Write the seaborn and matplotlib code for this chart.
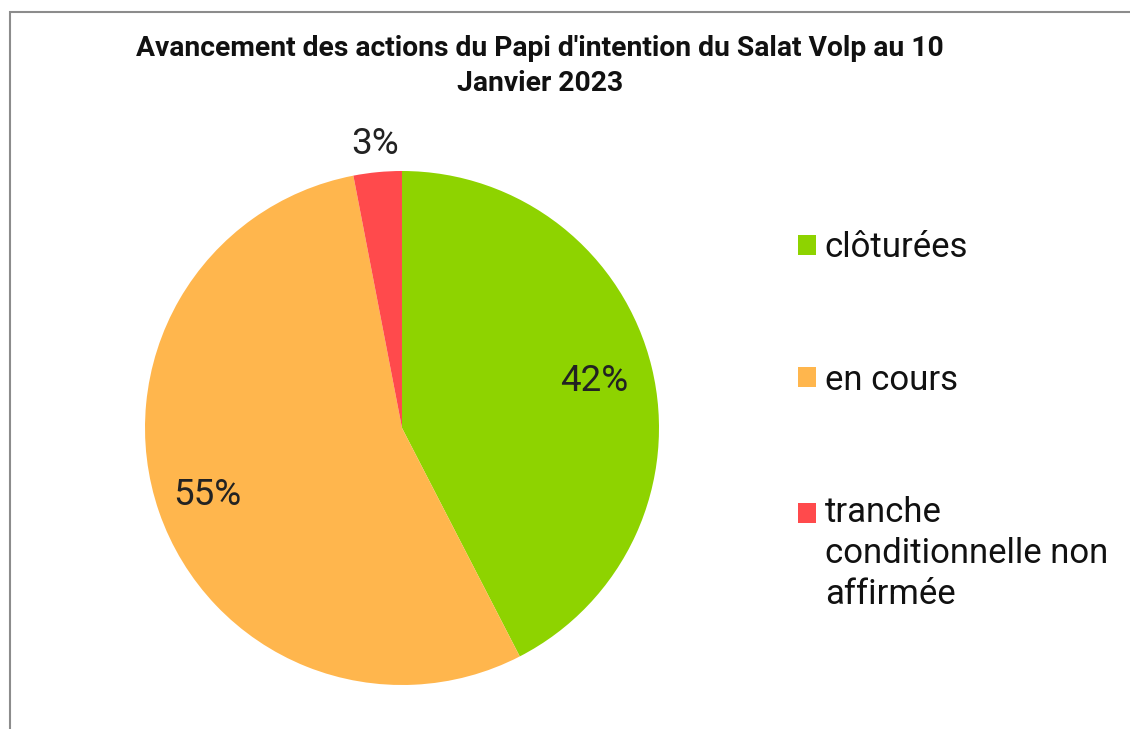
import matplotlib
matplotlib.use("Agg")
import matplotlib.pyplot as plt
import seaborn as sns
import numpy as np
from matplotlib.patches import Rectangle, Patch

sns.set_theme(style="white")
plt.rcParams['font.family'] = ['Roboto', 'DejaVu Sans']

title = "Avancement des actions du Papi d'intention du Salat Volp au 10\nJanvier 2023"
categories = ["clôturées", "en cours", "tranche\nconditionnelle non\naffirmée"]
values = [14, 18, 1]
colors = ["#8ED300", "#FFB64D", "#FF4A4C"]

W, H = 1130, 729
fig = plt.figure(figsize=(W / 100, H / 100), dpi=100)

# outer frame
fig.patches.append(Rectangle((10 / W, -0.05), 1.2, 1 - 12 / H + 0.05, transform=fig.transFigure,
                             fill=False, edgecolor="#8c8c8c", linewidth=1.5))

cx, cy, r = 402, 428, 257
ax = fig.add_axes([(cx - r) / W, (H - cy - r) / H, 2 * r / W, 2 * r / H])
wedges, _ = ax.pie(values, colors=colors, startangle=90, counterclock=False,
                   radius=1, wedgeprops=dict(linewidth=0))
ax.set_xlim(-1, 1)
ax.set_ylim(-1, 1)
ax.set_aspect("auto")
ax.axis("off")

total = sum(values)
start = 90.0
dists = [0.77, 0.80, 1.11]
for v, d in zip(values, dists):
    ang = start - 360.0 * v / total / 2
    start -= 360.0 * v / total
    a = np.deg2rad(ang)
    ax.text(d * np.cos(a), d * np.sin(a), f"{round(100 * v / total)}%",
            ha="center", va="center", fontsize=26.5, color="#222222")

fig.text(540 / W, 1 - 66 / H, title, ha="center", va="center", fontsize=20.3,
         fontweight="bold", color="#111111", linespacing=1.4)

fs = 25
handles = [Patch(facecolor=c, edgecolor="none") for c in colors]
leg = fig.legend(handles, categories, loc="upper left", bbox_to_anchor=(798 / W, 1 - 231 / H),
                 frameon=False, fontsize=fs, handlelength=0.52, handleheight=0.52,
                 handletextpad=0.25, labelspacing=2.87, borderpad=0, borderaxespad=0)
for t in leg.get_texts():
    t.set_color("#111111")
    t.set_linespacing(1.3)
# align the multi-line entry's marker with its first line
h = leg.legend_handles[2]
h.set_y(h.get_y() + 29.5)

fig.savefig("out.png", dpi=100)
